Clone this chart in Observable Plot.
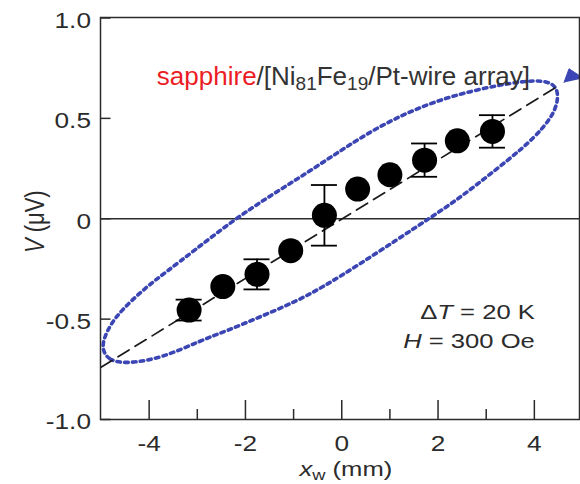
<!DOCTYPE html>
<html><head><meta charset="utf-8">
<script src="https://cdn.jsdelivr.net/npm/d3@7"></script>
<script src="https://cdn.jsdelivr.net/npm/@observablehq/plot@0.6"></script>
<style>
body{margin:0;background:#fff}
#chart{width:580px;height:484px;overflow:hidden}
</style>
</head><body><div id="chart"></div>
<script>
// ---- data ----
const xw   = [-3.17, -2.47, -1.76, -1.06, -0.36, 0.33, 1.00, 1.72, 2.40, 3.13];
const vOut = [-0.455, -0.338, -0.277, -0.159, 0.017, 0.148, 0.219, 0.292, 0.388, 0.435];
const vErr = [0.052, 0, 0.075, 0, 0.151, 0, 0, 0.083, 0, 0.081];

const fitX = [-5, 4.45];
const fitV = [-0.74, 0.655];

// dotted guide loop, traced point by point around the reference outline
const ellipseX = [-4.979, -4.861, -4.481, -3.720, -2.925, -2.371, -1.680, -0.990, -0.367, 0.326, 1.156, 1.846, 2.469, 3.091, 3.782, 4.197, 4.440, 4.508, 4.405, 4.060, 3.438, 2.745, 2.054, 1.363, 0.670, -0.021, -0.712, -1.473, -2.234, -3.064, -3.651, -4.066, -4.550, -4.793, -4.931];
const ellipseV = [-0.646, -0.703, -0.724, -0.693, -0.606, -0.557, -0.487, -0.417, -0.337, -0.233, -0.103, 0.006, 0.107, 0.224, 0.355, 0.455, 0.539, 0.622, 0.675, 0.692, 0.674, 0.639, 0.594, 0.529, 0.445, 0.340, 0.230, 0.116, -0.004, -0.158, -0.266, -0.341, -0.449, -0.523, -0.590];

const arrowX = [4.616, 4.72, 5.02];
const arrowV = [0.679, 0.747, 0.700];

const xTicks = [-4, -2, 0, 2, 4];
const xMinor = [-3, -1, 1, 3];
const yTicks = [-1, -0.5, 0, 0.5, 1];

const annotText = "sapphire/[Ni81Fe19/Pt-wire array]";
const condText = ["\u0394T = 20 K", "H = 300 Oe"];
const condV = [-0.466, -0.608];
const xLabel = "xw (mm)";
const yLabel = "V (\u03bcV)";

// ---- styling ----
const FONT = "'Liberation Sans', Arial, Helvetica, sans-serif";
const ink = "#2b2b2b";
const blue = "#3b46b4";
const red = "#ec1c24";

const pts = xw.map((x, i) => ({x, v: vOut[i], e: vErr[i]}));
const errPts = pts.filter(d => d.e > 0);
const ell = ellipseX.map((x, i) => ({x, v: ellipseV[i]}));
const fit = fitX.map((x, i) => ({x, v: fitV[i]}));
const arrow = arrowX.map((x, i) => ({x, v: arrowV[i]}));
const cond = condText.map((t, i) => ({t, v: condV[i]}));

const xFmt = d => String(d);
const yFmt = d => d === 0 ? "0" : d.toFixed(1);

const plot = Plot.plot({
  width: 580, height: 484,
  marginLeft: 100, marginRight: 1, marginTop: 17, marginBottom: 65,
  x: {domain: [-5, 5], range: [100.5, 582], axis: null},
  y: {domain: [-1, 1], range: [419, 17.5], axis: null},
  style: {fontFamily: FONT, color: ink, background: "#fff"},
  marks: [
    Plot.ruleY([0], {stroke: ink, strokeWidth: 1.5}),
    Plot.line(ell, {x: "x", y: "v", curve: "basis-closed", stroke: blue, strokeWidth: 3.6, strokeDasharray: "3.5,4.3"}),
    Plot.line(fit, {x: "x", y: "v", stroke: "#1a1a1a", strokeWidth: 1.7, strokeDasharray: "13,7"}),
    Plot.ruleX(errPts, {x: "x", y1: d => d.v - d.e, y2: d => d.v + d.e, stroke: "#000", strokeWidth: 1.8}),
    Plot.ruleY(errPts, {y: d => d.v + d.e, x1: "x", x2: "x", insetLeft: -13, insetRight: -13, stroke: "#000", strokeWidth: 1.8}),
    Plot.ruleY(errPts, {y: d => d.v - d.e, x1: "x", x2: "x", insetLeft: -13, insetRight: -13, stroke: "#000", strokeWidth: 1.8}),
    Plot.dot(pts, {x: "x", y: "v", r: 12.5, fill: "#000", stroke: "none"}),
    Plot.line(arrow, {x: "x", y: "v", fill: blue, stroke: blue, strokeWidth: 1}),
    Plot.ruleX(xTicks, {x: d => d, y1: -1, y2: -1, insetTop: -19, stroke: ink, strokeWidth: 1.5}),
    Plot.ruleX(xMinor, {x: d => d, y1: -1, y2: -1, insetTop: -10, stroke: ink, strokeWidth: 1.5}),
    Plot.ruleY(yTicks, {y: d => d, x1: -5, x2: -5, insetRight: -10, stroke: ink, strokeWidth: 1.5}),
    Plot.frame({stroke: ink, strokeWidth: 1.5}),
    Plot.text(xTicks, {x: d => d, y: -1, text: xFmt, lineAnchor: "top", dy: 16, fontSize: 21.5, fill: ink}),
    Plot.text(yTicks, {x: -5, y: d => d, text: yFmt, textAnchor: "end", dx: -10, dy: 3, fontSize: 21.5, fill: ink}),
    Plot.text([xLabel], {x: 0, y: -1, text: d => d, lineAnchor: "top", dx: 4, dy: 42, fontSize: 21, fill: ink}),
    Plot.text([yLabel], {x: -5, y: 0, text: d => d, rotate: -90, dx: -65.5, dy: 3, fontSize: 22, fill: ink}),
    Plot.text([annotText], {x: -3.84, y: 0.706, text: d => d, textAnchor: "start", fontSize: 26, fill: "#333"}),
    Plot.text(cond, {x: 4.01, y: "v", text: "t", textAnchor: "end", fontSize: 21, fill: ink})
  ]
});

document.getElementById("chart").append(plot);

const NS = "http://www.w3.org/2000/svg";
function richify(match, parts) {
  plot.querySelectorAll("text").forEach(t => {
    if (t.textContent !== match) return;
    while (t.firstChild) t.removeChild(t.firstChild);
    parts.forEach(p => {
      const ts = document.createElementNS(NS, "tspan");
      ts.textContent = p.t;
      if (p.italic) ts.setAttribute("font-style", "italic");
      if (p.fill) ts.setAttribute("fill", p.fill);
      if (p.size) ts.setAttribute("font-size", p.size);
      if (p.dy) ts.setAttribute("dy", p.dy);
      t.appendChild(ts);
    });
  });
}
richify(annotText, [
  {t: "sapphire", fill: red},
  {t: "/[Ni"},
  {t: "81", size: 19, dy: 5},
  {t: "Fe", dy: -5},
  {t: "19", size: 19, dy: 5},
  {t: "/Pt-wire array]", dy: -5}
]);
richify(condText[0], [{t: "\u0394"}, {t: "T", italic: true}, {t: " = 20 K"}]);
richify(condText[1], [{t: "H", italic: true}, {t: " = 300 Oe"}]);
richify(xLabel, [{t: "x", italic: true}, {t: "w", size: 15, dy: 4}, {t: " (mm)", dy: -4}]);
richify(yLabel, [{t: "V", italic: true}, {t: " (\u03bcV)"}]);

// the reference's lettering is horizontally widened; reproduce by scaling about each anchor
function stretch(el, s) {
  const r = el.getBoundingClientRect();
  const anchor = getComputedStyle(el).textAnchor;
  const ax = anchor === "end" ? r.right : anchor === "middle" ? (r.left + r.right) / 2 : r.left;
  const m = el.parentNode.getScreenCTM();
  const lx = (ax - m.e) / m.a;
  const g = document.createElementNS(NS, "g");
  g.setAttribute("transform", `translate(${lx},0) scale(${s},1) translate(${-lx},0)`);
  el.parentNode.insertBefore(g, el);
  g.appendChild(el);
}
Array.from(plot.querySelectorAll("text")).forEach(t => {
  if (t.textContent.startsWith("sapphire")) return;
  stretch(t, 1.22);
});
</script>
</body></html>
